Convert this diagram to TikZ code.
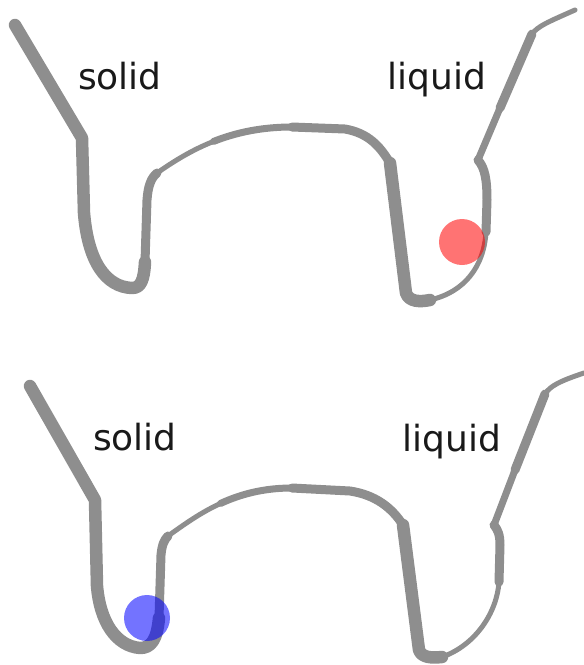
\documentclass[tikz,border=0pt]{standalone}
\usepackage{fontspec}
\setsansfont{DejaVu Sans}
\definecolor{wellgray}{RGB}{142,142,142}
\definecolor{txtblack}{RGB}{25,25,25}
\usepackage{tikz}

\begin{document}
\begin{tikzpicture}[x=1pt,y=-1pt,
  wk/.style={draw=wellgray,line width=12.5pt,line cap=round,line join=round},
  wm/.style={draw=wellgray,line width=9pt,line cap=round,line join=round},
  wn/.style={draw=wellgray,line width=7pt,line cap=round,line join=round},
  wt/.style={draw=wellgray,line width=5pt,line cap=round,line join=round},
  lbl/.style={font=\sffamily\fontsize{36}{42}\selectfont,text=txtblack,anchor=base,inner sep=0pt},
  bead/.style={circle,minimum size=46pt,inner sep=0pt,fill opacity=0.55}]
  \useasboundingbox (0,0) rectangle (584,665);
  % (a) top landscape, particle in the liquid well
  \draw[wk] (15,25) -- (82,138) -- (84,213) .. controls (88,262) and (106,287) .. (132,288)
    .. controls (141,288) and (144,280) .. (145,262);
  \draw[wm] (145,262) -- (147,200) .. controls (148,186) and (151,178) .. (157,173);
  \draw[wt] (157,173) .. controls (173.5,161.5) and (191.75,150) .. (213.6,141.4);
  \draw[wn] (213.6,141.4) .. controls (235.5,132.75) and (261,127) .. (292,127);
  \draw[wm] (292,127) -- (345,129) .. controls (368,133) and (380,146) .. (390,163);
  \draw[wk] (390,163) -- (406,293) .. controls (409,302) and (420,302) .. (430,300);
  \draw[wt] (430,300) .. controls (465,292) and (484,266) .. (486,232);
  \draw[wm] (486,232) -- (487,200) .. controls (487,180) and (485,168) .. (478,160);
  \draw[wn] (478,160) -- (500,108);
  \draw[wm] (500,108) -- (532,34);
  \draw[wt] (532,34) .. controls (538,26) and (548,22) .. (575,10);
  \node[bead,fill=red] (liqA) at (462,242) {};
  \node[lbl] (solA) at (120,89) {solid};
  \node[lbl] (lqdA) at (437,89) {liquid};
  % (b) bottom landscape, particle in the solid well
  \draw[wk] (30,386) -- (95,500) -- (97,586) .. controls (100,622) and (116,646) .. (140,648)
    .. controls (151,648) and (157,640) .. (159,618);
  \draw[wm] (159,618) -- (161,555) .. controls (162,545) and (164,540) .. (168,536);
  \draw[wt] (168,536) .. controls (184,524.5) and (200.75,512.5) .. (220.6,503.4);
  \draw[wn] (220.6,503.4) .. controls (240.5,494.25) and (263.5,488) .. (292,488);
  \draw[wm] (292,488) -- (350,491) .. controls (376,495) and (392,508) .. (403,525);
  \draw[wk] (403,525) -- (419,650) .. controls (422,658) and (432,658) .. (442,657);
  \draw[wt] (442,657) .. controls (476,645) and (497,612) .. (499,582);
  \draw[wm] (499,582) -- (500,545) .. controls (500,535) and (498,530) .. (494,525);
  \draw[wn] (494,525) -- (515,470);
  \draw[wm] (515,470) -- (545,394);
  \draw[wt] (545,394) .. controls (550,386) and (560,381) .. (584,373);
  \node[bead,fill=blue] (solB) at (147,618) {};
  \node[lbl] (solLB) at (135,450) {solid};
  \node[lbl] (lqdB) at (452,451) {liquid};
\end{tikzpicture}
\end{document}
